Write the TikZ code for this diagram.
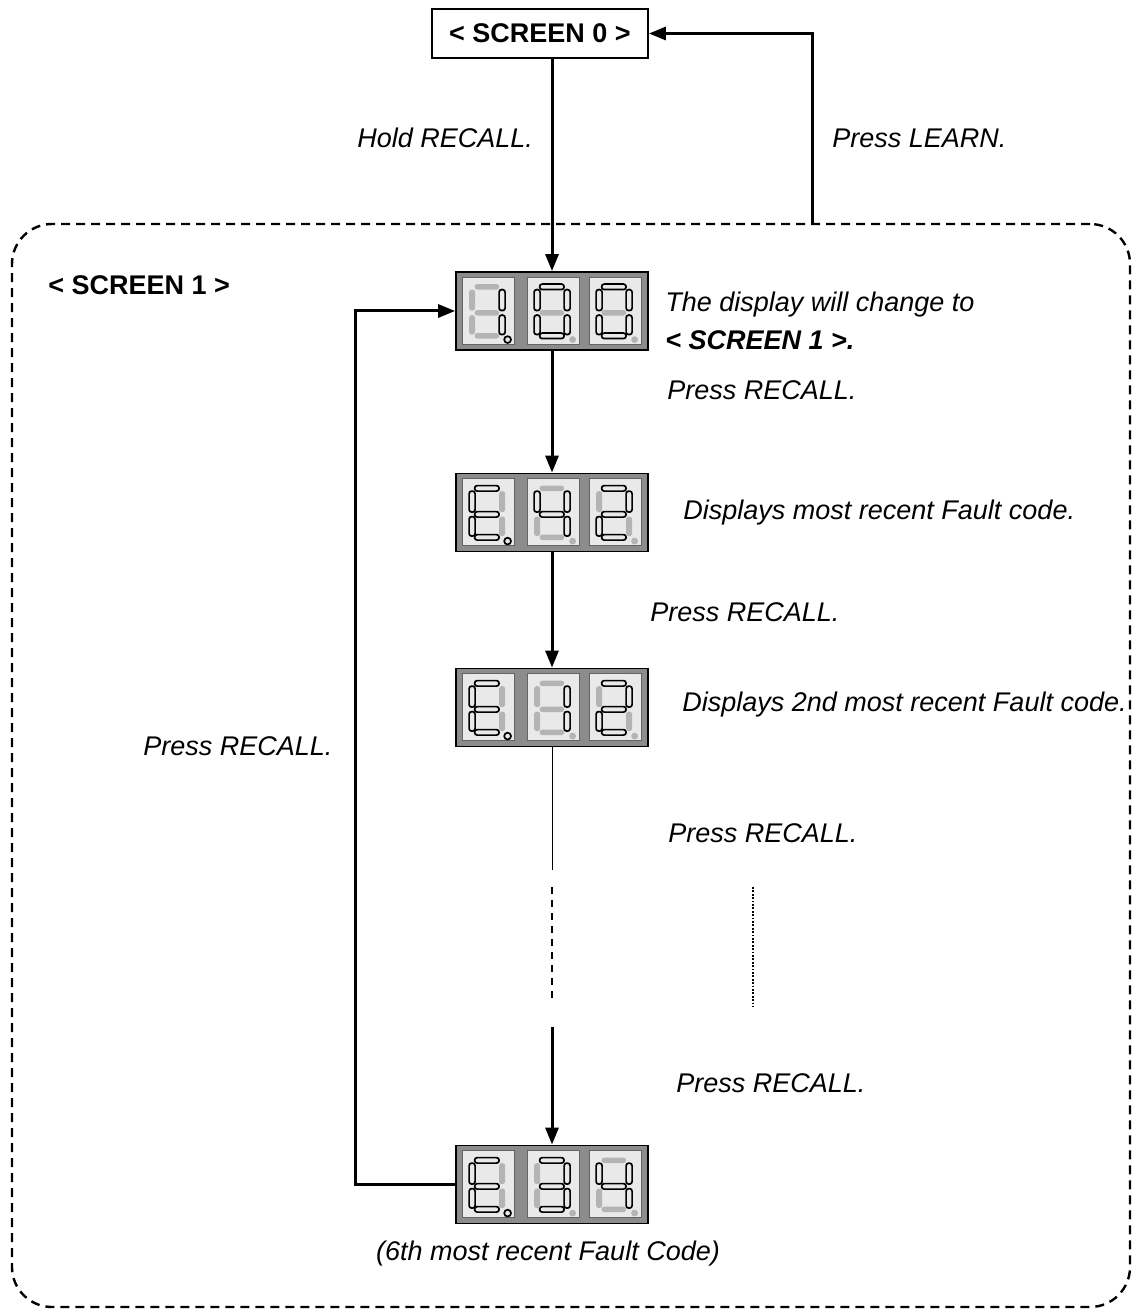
\documentclass[tikz,border=0pt]{standalone}
\usepackage{fontspec}
\setmainfont{Liberation Sans}
\usetikzlibrary{arrows.meta}
\definecolor{dispgray}{RGB}{140,140,140}
\definecolor{panelfill}{RGB}{233,233,233}
\definecolor{paneldraw}{RGB}{100,100,100}
\definecolor{segoffc}{RGB}{180,180,180}
\tikzset{
  arr/.style={line width=1.5pt,-{Triangle[length=8.5pt,width=6.5pt]}},
  disp/.style={draw=black,line width=0.9pt,fill=dispgray,minimum width=96pt,minimum height=39pt,inner sep=0},
  panel/.style={fill=panelfill,draw=paneldraw,line width=0.5pt},
  segon/.style={draw=black,line width=0.85pt,fill=panelfill,rounded corners=1.3pt},
  segoff/.style={fill=segoffc,rounded corners=1.3pt},
  lbl/.style={font=\fontsize{13.5pt}{16pt}\selectfont\itshape,inner sep=0,anchor=west},
  blbl/.style={font=\fontsize{13.5pt}{16pt}\selectfont\bfseries,inner sep=0,anchor=west},
}
\newcommand{\sseg}[5]{\ifnum#1=1\relax\draw[segon] (#2,#3) rectangle (#4,#5);\else\fill[segoff] (#2,#3) rectangle (#4,#5);\fi}
\newcommand{\sdigit}[9]{%
  \begin{scope}[shift={(#1,6)}]
    \draw[panel] (0,0) rectangle (52,67);
    \sseg{#2}{12.5}{7}{37}{12.5}
    \sseg{#3}{37}{12.5}{43}{33.5}
    \sseg{#4}{37}{38}{43}{57.5}
    \sseg{#5}{12.5}{56}{37}{61.5}
    \sseg{#6}{7}{38}{13}{57.5}
    \sseg{#7}{7}{12.5}{13}{33.5}
    \sseg{#8}{12.5}{33}{37}{38.5}
    \ifnum#9=1\relax\draw[segon] (45.5,62.5) circle (1.7pt);\else\fill[segoffc] (45.5,62.5) circle (1.7pt);\fi
  \end{scope}}
\begin{document}
\begin{tikzpicture}[x=0.5pt,y=-0.5pt]
\useasboundingbox (0,0) rectangle (1132,1310);
% dashed screen 1 frame
\node[draw=black,line width=1.2pt,dash pattern=on 4.5pt off 3pt,rounded corners=20pt,minimum width=559pt,minimum height=541.5pt,inner sep=0] (s1) at (571,765.5) {};
% screen 0
\node[draw=black,line width=0.9pt,minimum width=108pt,minimum height=24.5pt,inner sep=0,font=\fontsize{13.5pt}{16pt}\selectfont\bfseries] (s0) at (540,33.5) {< SCREEN 0 >};
% displays
\node[disp] (d1) at (552,311) {};
\node[disp] (d2) at (552,512.5) {};
\node[disp] (d3) at (552,707.5) {};
\node[disp] (d4) at (552,1184.5) {};
\begin{scope}[shift={(d1.north west)}]
  \sdigit{7}{0}{1}{1}{0}{0}{0}{0}{1}
  \sdigit{72}{1}{1}{1}{1}{1}{1}{0}{0}
  \sdigit{134}{1}{1}{1}{1}{1}{1}{0}{0}
\end{scope}
\begin{scope}[shift={(d2.north west)}]
  \sdigit{7}{1}{0}{0}{1}{1}{1}{1}{1}
  \sdigit{72}{0}{1}{1}{0}{0}{1}{1}{0}
  \sdigit{134}{1}{1}{0}{1}{1}{0}{1}{0}
\end{scope}
\begin{scope}[shift={(d3.north west)}]
  \sdigit{7}{1}{0}{0}{1}{1}{1}{1}{1}
  \sdigit{72}{0}{1}{1}{0}{0}{0}{0}{0}
  \sdigit{134}{1}{1}{0}{1}{1}{0}{1}{0}
\end{scope}
\begin{scope}[shift={(d4.north west)}]
  \sdigit{7}{1}{0}{0}{1}{1}{1}{1}{1}
  \sdigit{72}{1}{1}{1}{1}{0}{0}{1}{0}
  \sdigit{134}{0}{1}{1}{0}{0}{1}{1}{0}
\end{scope}
% connectors
\coordinate (lx) at (812,0);
\coordinate (lp) at (355,0);
\coordinate (g1) at (552,870);
\coordinate (g2) at (552,887);
\coordinate (g3) at (552,1002);
\coordinate (g4) at (552,1027);
\coordinate (v1) at (753,887);
\coordinate (v2) at (753,1007);
\draw[arr] (s0.south -| d1.north) -- (d1.north);
\draw[arr] (s1.north -| lx) |- (s0.east);
\draw[arr] (d1.south) -- (d2.north);
\draw[arr] (d2.south) -- (d3.north);
\draw[line width=0.5pt] (d3.south) -- (g1);
\draw[line width=1.1pt,dash pattern=on 3.5pt off 3pt] (g2) -- (g3);
\draw[arr] (g4) -- (d4.north);
\draw[line width=1.2pt,dash pattern=on 0.9pt off 0.8pt] (v1) -- (v2);
\draw[arr] (d4.west) -- (d4.west -| lp) |- (d1.west);
% labels
\node[lbl] (t1) at (357,138) {Hold RECALL.};
\node[lbl] (t2) at (832,138) {Press LEARN.};
\node[blbl] (t3) at (48,285) {< SCREEN 1 >};
\node[lbl] (t4) at (665,305) {The display will change to};
\node[lbl,font=\fontsize{13.5pt}{16pt}\selectfont\bfseries\itshape] (t5) at (665,340) {< SCREEN 1 >.};
\node[lbl] (t6) at (667,390) {Press RECALL.};
\node[lbl] (t7) at (683,513) {Displays most recent Fault code.};
\node[lbl] (t8) at (650,612) {Press RECALL.};
\node[lbl] (t9) at (682,705) {Displays 2nd most recent Fault code.};
\node[lbl] (t10) at (143,746) {Press RECALL.};
\node[lbl] (t11) at (668,833) {Press RECALL.};
\node[lbl] (t12) at (676,1083) {Press RECALL.};
\node[lbl,anchor=center] (t13) at (548,1253) {(6th most recent Fault Code)};
\end{tikzpicture}
\end{document}
